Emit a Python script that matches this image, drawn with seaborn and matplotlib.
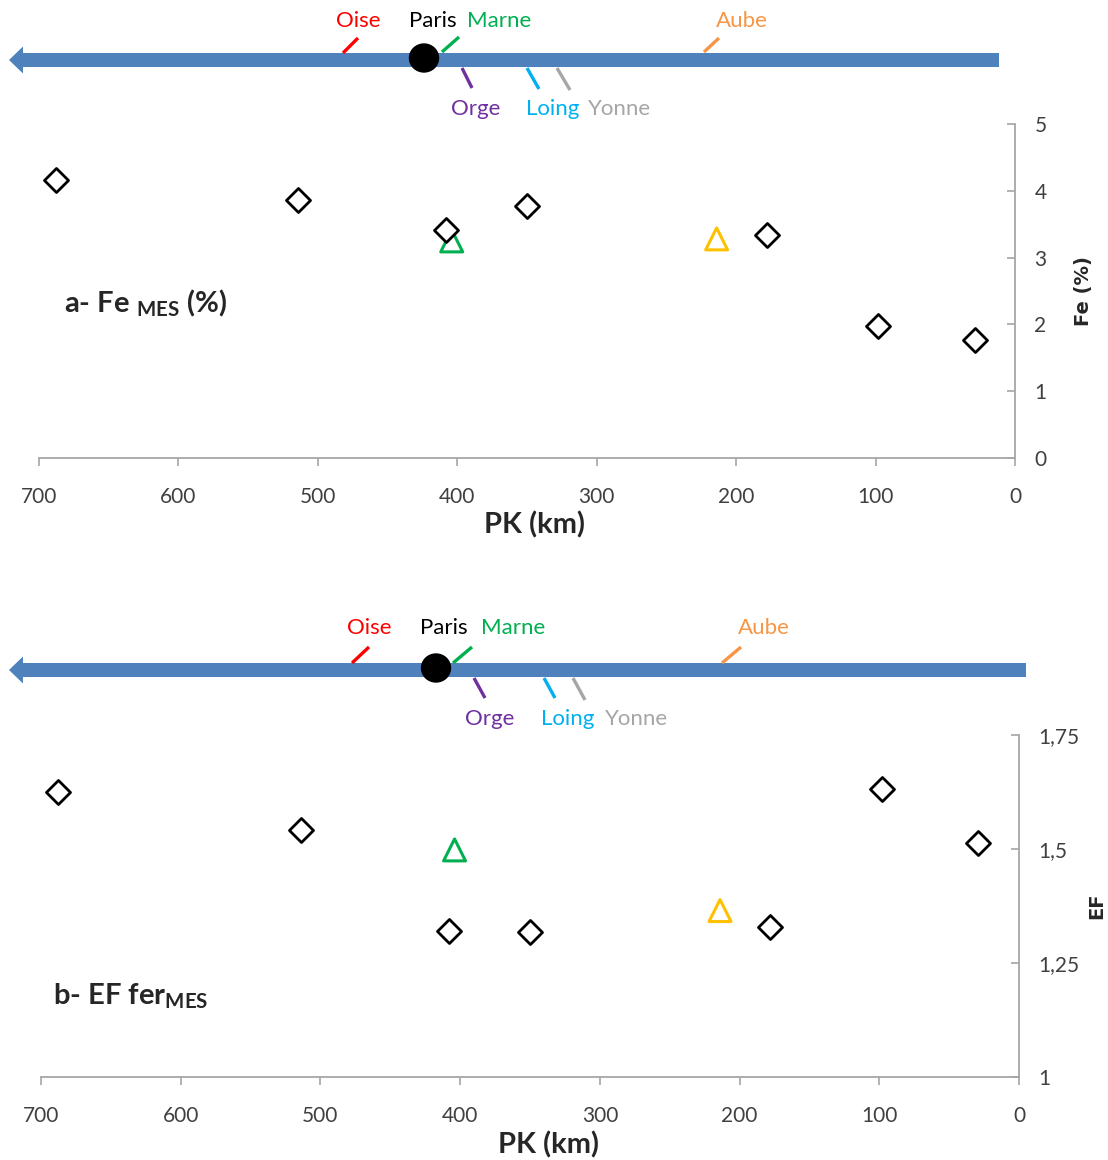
import matplotlib
matplotlib.use("Agg")
import matplotlib.pyplot as plt
import seaborn as sns
import numpy as np
import pandas as pd
from matplotlib.patches import FancyArrow, Ellipse
from matplotlib.ticker import FuncFormatter

# ---------------- data ----------------
pk_main = [688, 514, 408, 350, 178, 98, 29]
fe_main = [4.16, 3.86, 3.41, 3.77, 3.34, 1.98, 1.77]
ef_main = [1.625, 1.542, 1.320, 1.318, 1.328, 1.632, 1.513]

trib_names = ["Marne", "Aube"]
trib_pk = [404, 214]
fe_trib = [3.25, 3.28]
ef_trib = [1.498, 1.365]
trib_colors = ["#00B050", "#FFC000"]

river_labels = ["Oise", "Paris", "Marne", "Aube", "Orge", "Loing", "Yonne"]
river_colors = ["#FF0000", "#000000", "#00B050", "#F79646", "#7030A0", "#00B0F0", "#A6A6A6"]

x_ticks = [700, 600, 500, 400, 300, 200, 100, 0]
fe_ticks = [0, 1, 2, 3, 4, 5]
ef_ticks = [1, 1.25, 1.5, 1.75]

# ---------------- style ----------------
sns.set_style("white")
plt.rcParams["font.family"] = ["Lato", "DejaVu Sans"]
plt.rcParams["mathtext.fontset"] = "custom"
plt.rcParams["mathtext.bf"] = "Lato:bold"
plt.rcParams["mathtext.rm"] = "Lato"

W, H = 1108, 1160
fig = plt.figure(figsize=(W / 100, H / 100), dpi=100)

SPINE = "#A6A6A6"
TICKC = "#404040"


def make_axes(rect, ylim, yticks, ylabel, ylabel_x, xlabel_x):
    ax = fig.add_axes(rect)
    ax.set_xlim(700, 0)
    ax.set_ylim(*ylim)
    for s in ["top", "left"]:
        ax.spines[s].set_visible(False)
    for s in ["bottom", "right"]:
        ax.spines[s].set_color(SPINE)
        ax.spines[s].set_linewidth(1.3)
    ax.yaxis.tick_right()
    ax.yaxis.set_label_position("right")
    ax.set_xticks(x_ticks)
    ax.set_yticks(yticks)
    ax.yaxis.set_major_formatter(FuncFormatter(lambda v, p: f"{v:g}".replace(".", ",")))
    ax.tick_params(axis="x", direction="out", length=6, width=1.2, color=SPINE,
                   pad=15, labelsize=15, labelcolor=TICKC, bottom=True)
    ax.tick_params(axis="y", direction="in", length=6, width=1.2, color=SPINE,
                   pad=14, labelsize=15, labelcolor=TICKC, right=True, left=False)
    ax.set_xlabel("PK (km)", fontsize=21, fontweight="bold", labelpad=2)
    ax.xaxis.set_label_coords(xlabel_x, ax.xaxis.label.get_position()[1])
    ax.set_ylabel(ylabel, fontsize=14, fontweight="bold", family=["DejaVu Sans"],
                  rotation=90)
    ax.yaxis.label.set_verticalalignment("center")
    ax.yaxis.set_label_coords(ylabel_x, 0.5)
    ax.grid(False)
    return ax


def scatter_panel(ax, main_vals, trib_vals):
    sns.scatterplot(x=pk_main, y=main_vals, marker="D", s=150, facecolor="white",
                    edgecolor="black", linewidth=2.0, ax=ax, legend=False, zorder=3)
    sns.scatterplot(x=trib_pk, y=trib_vals, marker="^", s=250, facecolor="white",
                    edgecolor=trib_colors, linewidth=2.2, ax=ax, legend=False, zorder=2)
    for c in ax.collections:
        c.set_clip_on(False)


ax1 = make_axes([39 / W, 1 - 458 / H, 976 / W, 334 / H], (0, 5), fe_ticks, "Fe (%)",
                (1083 - 1015) / 976 + 1, (535 - 39) / 976)
scatter_panel(ax1, fe_main, fe_trib)
ax2 = make_axes([41 / W, 1 - 1077 / H, 978 / W, 342 / H], (1, 1.75), ef_ticks, "EF",
                (1097 - 1019) / 978 + 1, (549 - 41) / 978)
scatter_panel(ax2, ef_main, ef_trib)
ax1.xaxis.label.set_y(-0.16)
ax2.xaxis.label.set_y(-0.16)

# ---------------- river diagrams (pixel overlay) ----------------
ov = fig.add_axes([0, 0, 1, 1])
ov.set_xlim(0, W)
ov.set_ylim(H, 0)
ov.axis("off")
ov.patch.set_alpha(0)

BLUE = "#4F81BD"


def river(y, x_end, paris_x, ticks, labels_pos):
    ov.add_patch(FancyArrow(x_end, y, -(x_end - 9), 0, width=14, head_width=27,
                            head_length=14, length_includes_head=True,
                            color=BLUE, lw=0))
    for (x0, y0, x1, y1), col in ticks:
        ov.plot([x0, x1], [y0, y1], color=col, lw=2.4, solid_capstyle="butt")
    ov.add_patch(Ellipse((paris_x, y - 2), 29, 28, color="black", zorder=5))
    for name, col, (lx, ly) in zip(river_labels, river_colors, labels_pos):
        ov.text(lx, ly, name, color=col, fontsize=16, ha="center", va="center")


# panel a
river(60, 999, 424,
      [((343, 53, 358, 38), river_colors[0]),
       ((442, 52, 459, 37), river_colors[2]),
       ((704, 52, 719, 38), river_colors[3]),
       ((462, 68, 472, 88), river_colors[4]),
       ((527, 68, 539, 89), river_colors[5]),
       ((557, 68, 570, 90), river_colors[6])],
      [(358, 21), (433, 21), (499, 21), (742, 21), (476, 109), (553, 109), (620, 109)])

# panel b
river(670, 1026, 436,
      [((352, 663, 369, 647), river_colors[0]),
       ((453, 663, 472, 647), river_colors[2]),
       ((722, 663, 741, 647), river_colors[3]),
       ((474, 678, 485, 698), river_colors[4]),
       ((544, 678, 555, 698), river_colors[5]),
       ((573, 678, 585, 700), river_colors[6])],
      [(369, 628), (444, 628), (513, 628), (764, 628), (490, 719), (568, 719), (637, 719)])

# panel labels
ov.text(64, 312, r"a- Fe $_{\mathbf{MES}}$ (%)", fontsize=21, fontweight="bold",
        ha="left", va="baseline")
ov.text(53, 1004, r"b- EF fer$_{\mathbf{MES}}$", fontsize=21, fontweight="bold",
        ha="left", va="baseline")

fig.savefig("out.png", dpi=100)
